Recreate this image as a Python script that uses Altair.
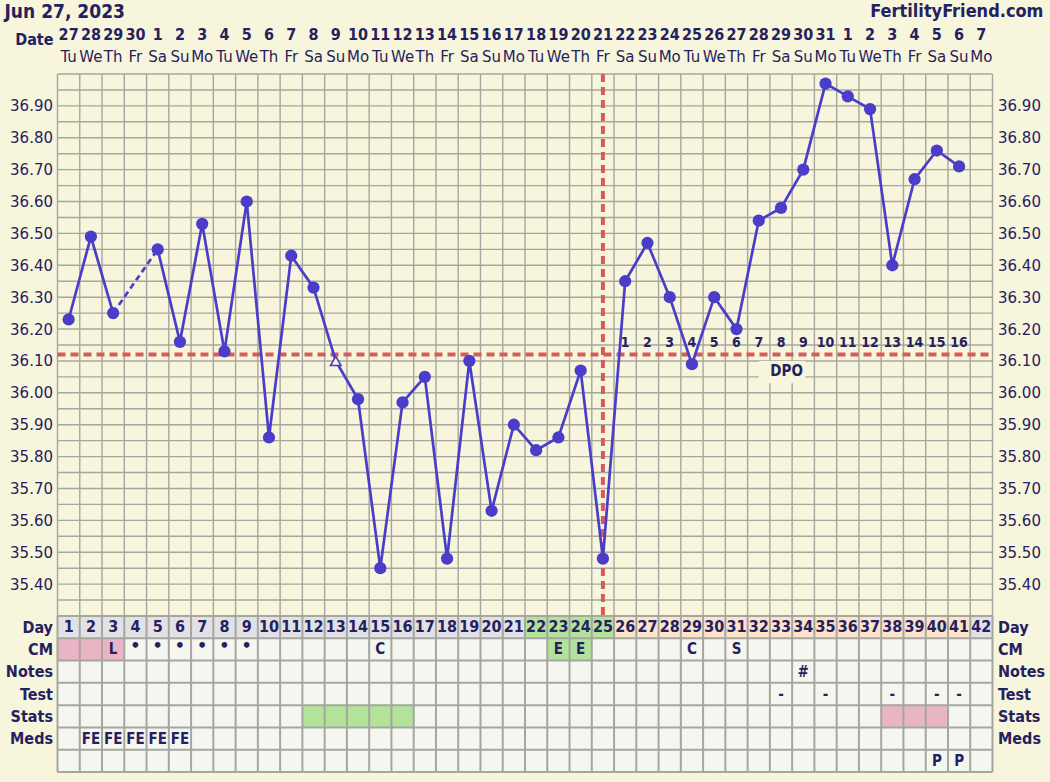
import altair as alt
import pandas as pd

# ---- palette -------------------------------------------------------------
NAVY = "#25215e"
LINE = "#4a3dc9"
RED = "#d65c5c"
GRID = "#a6a6a0"
CREAM = "#f7f5dc"
CELL = "#f6f6f1"
GREY_DAY = "#e1e1e6"
GREEN = "#b3e29b"
PEACH = "#fce3ca"
PINK = "#e9b5c5"

FONT = "DejaVu Sans"
FONT_B = "DejaVu Sans Condensed"

# ---- calendar ------------------------------------------------------------
dates = ["27", "28", "29", "30",
         "1", "2", "3", "4", "5", "6", "7", "8", "9", "10", "11", "12", "13",
         "14", "15", "16", "17", "18", "19", "20", "21", "22", "23", "24", "25",
         "26", "27", "28", "29", "30", "31",
         "1", "2", "3", "4", "5", "6", "7"]
weekdays = ["Tu", "We", "Th", "Fr", "Sa", "Su", "Mo"] * 6

# ---- waking temperatures by cycle day (None = not recorded) ---------------
temps = [36.23, 36.49, 36.25, None, 36.45, 36.16, 36.53, 36.13, 36.60, 35.86,
         36.43, 36.33, 36.10, 35.98, 35.45, 35.97, 36.05, 35.48, 36.10, 35.63,
         35.90, 35.82, 35.86, 36.07, 35.48, 36.35, 36.47, 36.30, 36.09, 36.30,
         36.20, 36.54, 36.58, 36.70, 36.97, 36.93, 36.89, 36.40, 36.67, 36.76,
         36.71]
open_days = [13]          # temperatures drawn with a hollow triangle
coverline = 36.12
ovulation_day = 25
dpo_labels = [str(i) for i in range(1, 17)]   # days past ovulation, days 26-41

# ---- chart table rows ----------------------------------------------------
row_names = ["Day", "CM", "Notes", "Test", "Stats", "Meds", ""]
day_phase = (["grey"] * 21) + (["fertile"] * 4) + (["luteal"] * 16) + ["grey"]
cm_fill = {1: "pink", 2: "pink", 3: "pink", 23: "green", 24: "green"}
cm_marks = {3: "L", 15: "C", 23: "E", 24: "E", 29: "C", 31: "S"}
cm_dots = [4, 5, 6, 7, 8, 9]
notes = {34: "#"}
tests = {33: "-", 35: "-", 38: "-", 40: "-", 41: "-"}
stats_fill = {12: "green", 13: "green", 14: "green", 15: "green", 16: "green",
              38: "pink", 39: "pink", 40: "pink"}
meds = {2: "FE", 3: "FE", 4: "FE", 5: "FE", 6: "FE"}
extra = {40: "P", 41: "P"}

# ---- geometry ------------------------------------------------------------
W = 935
H_TEMP = 542
H_TAB = 156
H = H_TEMP + H_TAB
N_DAYS = len(dates)

xs = alt.Scale(domain=[0.5, N_DAYS + 0.5], nice=False, zero=False)
yT = alt.Scale(domain=[35.30, 37.00], range=[H_TEMP, 0], nice=False, zero=False)
yR = alt.Scale(domain=[0, 7], range=[H_TEMP, H], nice=False, zero=False)

temp_ticks = [round(35.40 + 0.10 * k, 2) for k in range(16)]
grid_h = pd.DataFrame({"t": [round(35.30 + 0.05 * k, 2) for k in range(35)]})
grid_v = pd.DataFrame({"v": [0.5 + k for k in range(N_DAYS + 1)]})

# ---- temperature data frames ---------------------------------------------
rows = []
for d, t in enumerate(temps, start=1):
    if t is None:
        continue
    rows.append({"day": d, "temp": t, "seg": "a" if d < 4 else "b",
                 "kind": "open" if d in open_days else "dot"})
tdf = pd.DataFrame(rows)
gap_df = tdf[tdf["day"].isin([3, 5])]
dpo_df = pd.DataFrame({"day": list(range(26, 42)), "lab": dpo_labels})
head_df = pd.DataFrame({"day": list(range(1, N_DAYS + 1)), "date": dates, "wd": weekdays})

X = alt.X("day:Q", scale=xs, axis=None)

temp_axis = dict(values=temp_ticks, format=".2f", labelFont=FONT, labelFontSize=15,
                 labelColor=NAVY, domain=False, ticks=False, grid=False,
                 labelPadding=5, title=None)

h_lines = alt.Chart(grid_h).mark_rule(color=GRID, strokeWidth=1.4).encode(
    y=alt.Y("t:Q", scale=yT, axis=alt.Axis(orient="left", **temp_axis)),
    x=alt.value(0), x2=alt.value(W))

v_lines = alt.Chart(grid_v).mark_rule(color=GRID, strokeWidth=1.4).encode(
    x=alt.X("v:Q", scale=xs, axis=None), y=alt.value(0), y2=alt.value(H_TEMP))

dpo_box = alt.Chart(pd.DataFrame({"a": [32.0], "b": [34.1], "lo": [36.03], "hi": [36.10]})
                    ).mark_rect(color=CREAM).encode(
    x=alt.X("a:Q", scale=xs, axis=None), x2="b:Q",
    y=alt.Y("lo:Q", scale=yT), y2="hi:Q")

dpo_word = alt.Chart(pd.DataFrame({"x": [33.25], "y": [36.068], "s": ["DPO"]})).mark_text(
    font=FONT_B, fontWeight="bold", fontSize=15, color=NAVY, baseline="middle").encode(
    x=alt.X("x:Q", scale=xs, axis=None), y=alt.Y("y:Q", scale=yT), text="s:N")

cover_rule = alt.Chart(pd.DataFrame({"c": [coverline]})).mark_rule(
    color=RED, strokeWidth=4, strokeDash=[8, 5]).encode(
    y=alt.Y("c:Q", scale=yT), x=alt.value(0), x2=alt.value(W))

ovu_rule = alt.Chart(pd.DataFrame({"o": [ovulation_day]})).mark_rule(
    color=RED, strokeWidth=4, strokeDash=[8, 5]).encode(
    x=alt.X("o:Q", scale=xs, axis=None), y=alt.value(0), y2=alt.value(H_TEMP))

dpo_nums = alt.Chart(dpo_df).mark_text(
    font=FONT_B, fontWeight="bold", fontSize=14, color=NAVY, baseline="middle", dy=-12).encode(
    x=X, y=alt.datum(coverline, scale=yT), text="lab:N")

gap_line = alt.Chart(gap_df).mark_line(color=LINE, strokeWidth=2.7, strokeDash=[6, 4]).encode(
    x=X, y=alt.Y("temp:Q", scale=yT), order="day:Q")

solid_line = alt.Chart(tdf).mark_line(color=LINE, strokeWidth=2.7).encode(
    x=X, y=alt.Y("temp:Q", scale=yT), detail="seg:N", order="day:Q")

dots = alt.Chart(tdf[tdf["kind"] == "dot"]).mark_point(
    shape="circle", filled=True, size=150, color=LINE, opacity=1).encode(
    x=X, y=alt.Y("temp:Q", scale=yT))

hollow = alt.Chart(tdf[tdf["kind"] == "open"]).mark_point(
    shape="triangle-up", filled=False, size=110, stroke=LINE, fill=CREAM,
    fillOpacity=1, strokeWidth=1.6, opacity=1).encode(
    x=X, y=alt.Y("temp:Q", scale=yT))

date_row = alt.Chart(head_df).mark_text(
    font=FONT_B, fontWeight="bold", fontSize=16, color=NAVY, baseline="middle").encode(
    x=X, y=alt.value(-39), text="date:N")

wd_row = alt.Chart(head_df).mark_text(
    font=FONT, fontSize=15, color=NAVY, baseline="middle").encode(
    x=X, y=alt.value(-17), text="wd:N")

one = pd.DataFrame({"k": [0]})
date_word = alt.Chart(one).mark_text(
    text="Date", font=FONT_B, fontWeight="bold", fontSize=16, color=NAVY,
    align="right", baseline="middle").encode(x=alt.value(-4), y=alt.value(-34))
title_left = alt.Chart(one).mark_text(
    text="Jun 27, 2023", font=FONT_B, fontWeight="bold", fontSize=19, color=NAVY,
    align="left", baseline="middle").encode(x=alt.value(-53), y=alt.value(-62))
title_right = alt.Chart(one).mark_text(
    text="FertilityFriend.com", font=FONT_B, fontWeight="bold", fontSize=18, color=NAVY,
    align="right", baseline="middle").encode(x=alt.value(W + 51), y=alt.value(-62))

temp_left = alt.layer(h_lines, v_lines, dpo_box, dpo_word, cover_rule, ovu_rule,
                      dpo_nums, gap_line, solid_line, dots, hollow,
                      date_row, wd_row, date_word, title_left, title_right)

temp_right = alt.Chart(grid_h).mark_rule(opacity=0).encode(
    y=alt.Y("t:Q", scale=yT, axis=alt.Axis(orient="right", **temp_axis)))

# ---- table cells -----------------------------------------------------------
fill_of = {"pink": PINK, "green": GREEN}
phase_fill = {"grey": GREY_DAY, "fertile": GREEN, "luteal": PEACH}
cells = []
for d in range(1, N_DAYS + 1):
    for r in range(7):
        fill, txt = CELL, ""
        if r == 0:
            fill, txt = phase_fill[day_phase[d - 1]], str(d)
        elif r == 1:
            fill = fill_of.get(cm_fill.get(d), CELL)
            txt = cm_marks.get(d, "")
        elif r == 2:
            txt = notes.get(d, "")
        elif r == 3:
            txt = tests.get(d, "")
        elif r == 4:
            fill = fill_of.get(stats_fill.get(d), CELL)
        elif r == 5:
            txt = meds.get(d, "")
        elif r == 6:
            txt = extra.get(d, "")
        cells.append({"day": d, "r0": r, "r1": r + 1, "rm": r + 0.5,
                      "lo": d - 0.5, "hi": d + 0.5, "fill": fill, "txt": txt,
                      "size": 16 if r == 0 else 15})
cdf = pd.DataFrame(cells)
dot_df = pd.DataFrame({"day": cm_dots, "rm": [1.5] * len(cm_dots)})

row_axis = dict(values=[k + 0.5 for k in range(7)],
                labelExpr="['Day','CM','Notes','Test','Stats','Meds',''][floor(datum.value)]",
                labelFont=FONT_B, labelFontWeight="bold", labelFontSize=16,
                labelColor=NAVY, domain=False, ticks=False, grid=False,
                labelPadding=5, title=None)

cell_rects = alt.Chart(cdf).mark_rect(strokeWidth=0).encode(
    x=alt.X("lo:Q", scale=xs, axis=None), x2="hi:Q",
    y=alt.Y("r0:Q", scale=yR, axis=alt.Axis(orient="left", **row_axis)), y2="r1:Q",
    color=alt.Color("fill:N", scale=None))

tab_h = alt.Chart(pd.DataFrame({"r": list(range(8))})).mark_rule(color=GRID, strokeWidth=2).encode(
    y=alt.Y("r:Q", scale=yR), x=alt.value(0), x2=alt.value(W))
tab_v = alt.Chart(grid_v).mark_rule(color=GRID, strokeWidth=2).encode(
    x=alt.X("v:Q", scale=xs, axis=None), y=alt.value(H_TEMP), y2=alt.value(H))

cell_text = alt.Chart(cdf[cdf["txt"] != ""]).mark_text(
    font=FONT_B, fontWeight="bold", color=NAVY, baseline="middle").encode(
    x=X, y=alt.Y("rm:Q", scale=yR), text="txt:N",
    size=alt.Size("size:Q", scale=None, legend=None))
cell_dots = alt.Chart(dot_df).mark_text(
    text="\u2022", font=FONT, fontWeight="bold", fontSize=16, color=NAVY,
    baseline="middle", dy=-3).encode(
    x=X, y=alt.Y("rm:Q", scale=yR))

table_left = alt.layer(cell_rects, tab_h, tab_v, cell_text, cell_dots)
table_right = alt.Chart(cdf).mark_rule(opacity=0).encode(
    y=alt.Y("rm:Q", scale=yR, axis=alt.Axis(orient="right", **row_axis)))

chart = alt.layer(temp_left, temp_right, table_left, table_right).resolve_scale(
    y="independent").resolve_axis(y="independent").properties(
    width=W, height=H,
    autosize=alt.AutoSizeParams(type="none"),
    padding={"left": 57.5, "top": 74, "right": 57.5, "bottom": 10},
    background=CREAM,
).configure_view(strokeWidth=0)

chart.save("out.html", embed_options={"renderer": "svg", "actions": False})
